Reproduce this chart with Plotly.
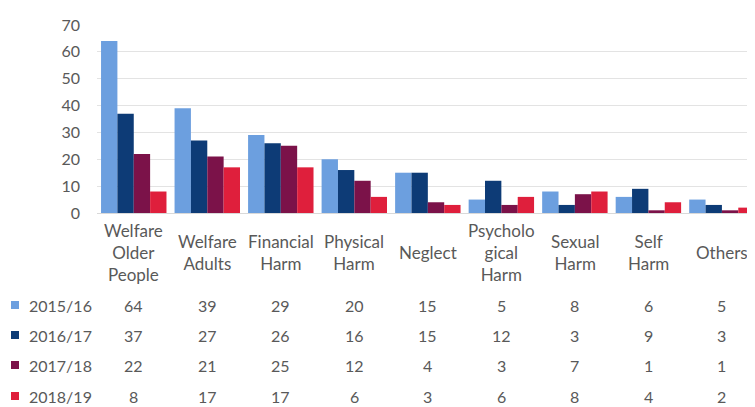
import plotly.graph_objects as go

categories = ["Welfare<br>Older<br>People", "Welfare<br>Adults", "Financial<br>Harm",
              "Physical<br>Harm", "Neglect", "Psycholo<br>gical<br>Harm",
              "Sexual<br>Harm", "Self<br>Harm", "Others"]
series_names = ["2015/16", "2016/17", "2017/18", "2018/19"]
v2015 = [64, 39, 29, 20, 15, 5, 8, 6, 5]
v2016 = [37, 27, 26, 16, 15, 12, 3, 9, 3]
v2017 = [22, 21, 25, 12, 4, 3, 7, 1, 1]
v2018 = [8, 17, 17, 6, 3, 6, 8, 4, 2]
y_ticks = [0, 10, 20, 30, 40, 50, 60, 70]

series_values = [v2015, v2016, v2017, v2018]
colors = ["#6C9FDF", "#0D3B76", "#7B1249", "#DF1F3C"]
FONT = "Lato"
TXT = "#595959"
OFF = 8  # default page body margin
W, H = 755 - OFF, 407 - OFF
top, bottom_px = 25 - OFF, 213 - OFF
plot_h = bottom_px - top

def py(p):
    return (bottom_px - (p - OFF)) / plot_h

idx = list(range(len(categories)))
fig = go.Figure()
for name, vals, c in zip(series_names, series_values, colors):
    fig.add_trace(go.Bar(x=idx, y=vals, name=name, marker=dict(color=c, line=dict(width=0))))

ann = []
for i, cat in enumerate(categories):
    ann.append(dict(x=i, y=py(252), xref="x", yref="paper", text=cat, showarrow=False,
                    xanchor="center", yanchor="middle", align="center",
                    font=dict(family=FONT, size=17, color=TXT)))
row_y = [305, 335, 365, 396]
for r, (name, vals, c) in enumerate(zip(series_names, series_values, colors)):
    ann.append(dict(x=27, y=py(row_y[r]), xref="paper", yref="paper", text=name, showarrow=False,
                    xanchor="left", yanchor="middle",
                    font=dict(family=FONT, size=16, color=TXT)))
    for i, v in enumerate(vals):
        ann.append(dict(x=i, y=py(row_y[r]), xref="x", yref="paper", text=str(v), showarrow=False,
                        xanchor="center", yanchor="middle",
                        font=dict(family=FONT, size=16, color=TXT)))

left_px = 97 - OFF
plot_w = W - left_px

def px(p):
    return (p - OFF - left_px) / plot_w

shapes = []
for r, c in enumerate(colors):
    shapes.append(dict(type="rect", xref="paper", yref="paper",
                       x0=px(11), x1=px(19), y0=py(row_y[r] + 4), y1=py(row_y[r] - 4),
                       line=dict(width=0), fillcolor=c))
for a in ann:
    if a["xref"] == "paper":
        a["x"] = px(a["x"])

fig.update_layout(
    width=W, height=H,
    margin=dict(l=left_px, r=0, t=top, b=H - bottom_px),
    paper_bgcolor="white", plot_bgcolor="white",
    barmode="group", bargap=0.11, bargroupgap=0,
    showlegend=False,
    annotations=ann, shapes=shapes,
    xaxis=dict(range=[-0.5, 8.45], showticklabels=False, showgrid=False,
               showline=True, linecolor="#d9d9d9", linewidth=1, zeroline=False, ticks=""),
    yaxis=dict(range=[0, 70], tickvals=y_ticks, showgrid=True, gridcolor="#e3e3e3", gridwidth=1,
               zeroline=False, showline=False, ticks="", ticklabelstandoff=16,
               tickfont=dict(family=FONT, size=16, color=TXT)),
)
fig.write_html("out.html")
